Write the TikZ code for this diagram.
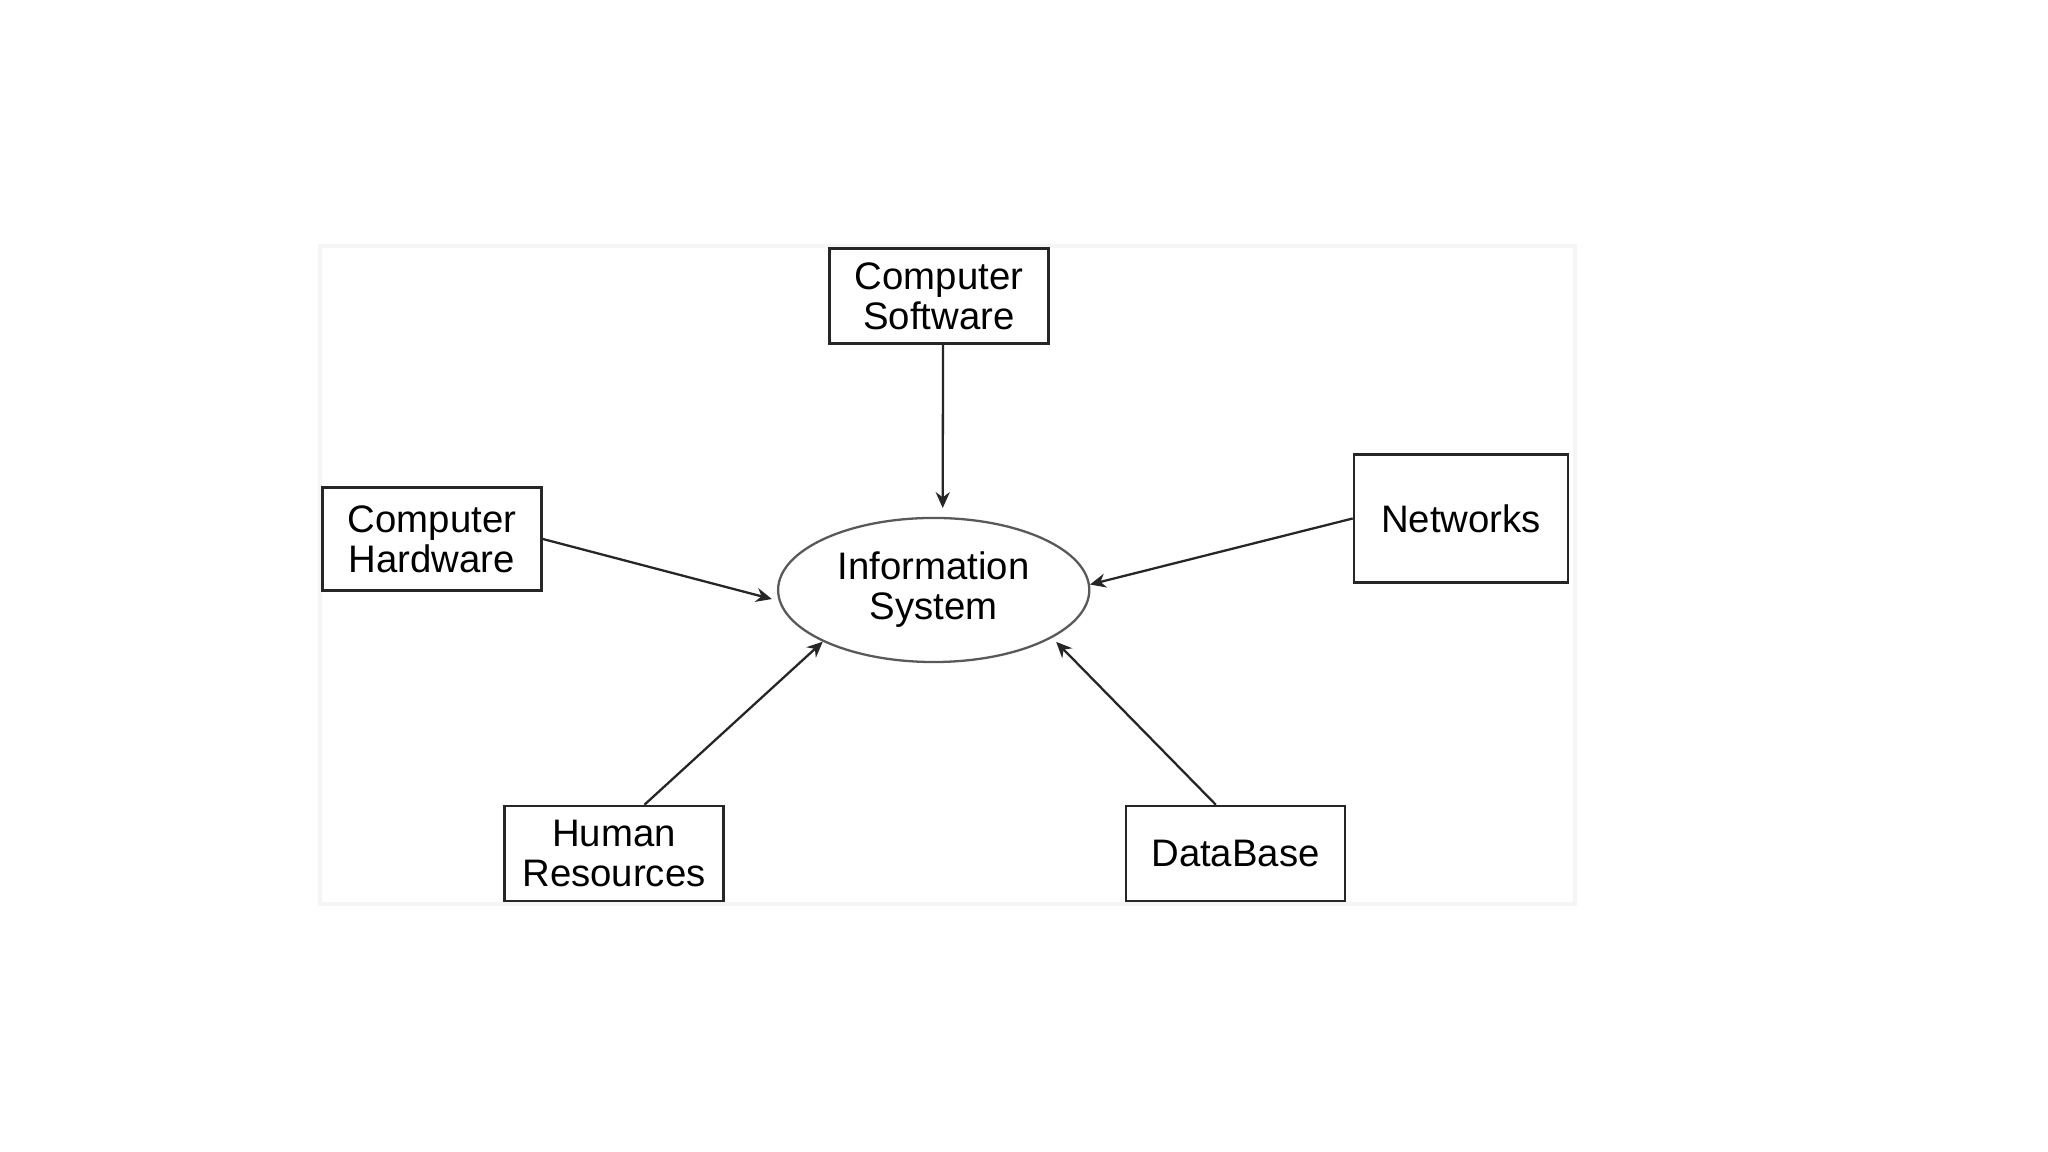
\documentclass[tikz,border=0pt]{standalone}
\usepackage{fontspec}
\setmainfont{Liberation Sans}
\usetikzlibrary{shapes.geometric,arrows.meta}
\begin{document}
\begin{tikzpicture}[x=0.01cm,y=0.01cm,
  box/.style={draw=black!85,line width=0.7pt,rectangle,inner sep=0pt,align=center,
    font=\fontsize{10.9}{11.4}\selectfont},
  arr/.style={draw=black!85,line width=0.65pt,-{Stealth[length=4.5pt,width=4pt]}}]
\useasboundingbox[fill=white] (0,0) rectangle (2048,1152);
\draw[black!4,line width=1pt] (320,248) rectangle (1575,906);
\node[box,minimum width=2.19cm,minimum height=0.95cm] (sw) at (939,856) {Computer\\Software};
\node[box,minimum width=2.19cm,minimum height=1.03cm] (hw) at (432,613) {Computer\\Hardware};
\node[box,minimum width=2.14cm,minimum height=1.28cm] (nw) at (1461,633.5) {Networks};
\node[box,minimum width=2.19cm,minimum height=0.95cm] (hr) at (614,298.5) {Human\\Resources};
\node[box,minimum width=2.19cm,minimum height=0.95cm] (db) at (1235.5,298.5) {DataBase};
\node[ellipse,draw=black!65,line width=0.65pt,inner sep=0pt,minimum width=3.11cm,minimum height=1.44cm,
  align=center,font=\fontsize{10.9}{11.4}\selectfont] (is) at (933.7,562) {Information\\System};
\draw[arr,shorten >=2.5pt] ([xshift=0.04cm]sw.south) -- ([xshift=0.09cm]is.north);
\draw[arr,shorten >=2pt] (hw.east) -- (is.184);
\draw[arr] (nw.west) -- (is.2);
\draw[arr] (hr.58) -- (is.205);
\draw[arr,shorten >=1.6pt] (db.112) -- (is.338);
\end{tikzpicture}
\end{document}
